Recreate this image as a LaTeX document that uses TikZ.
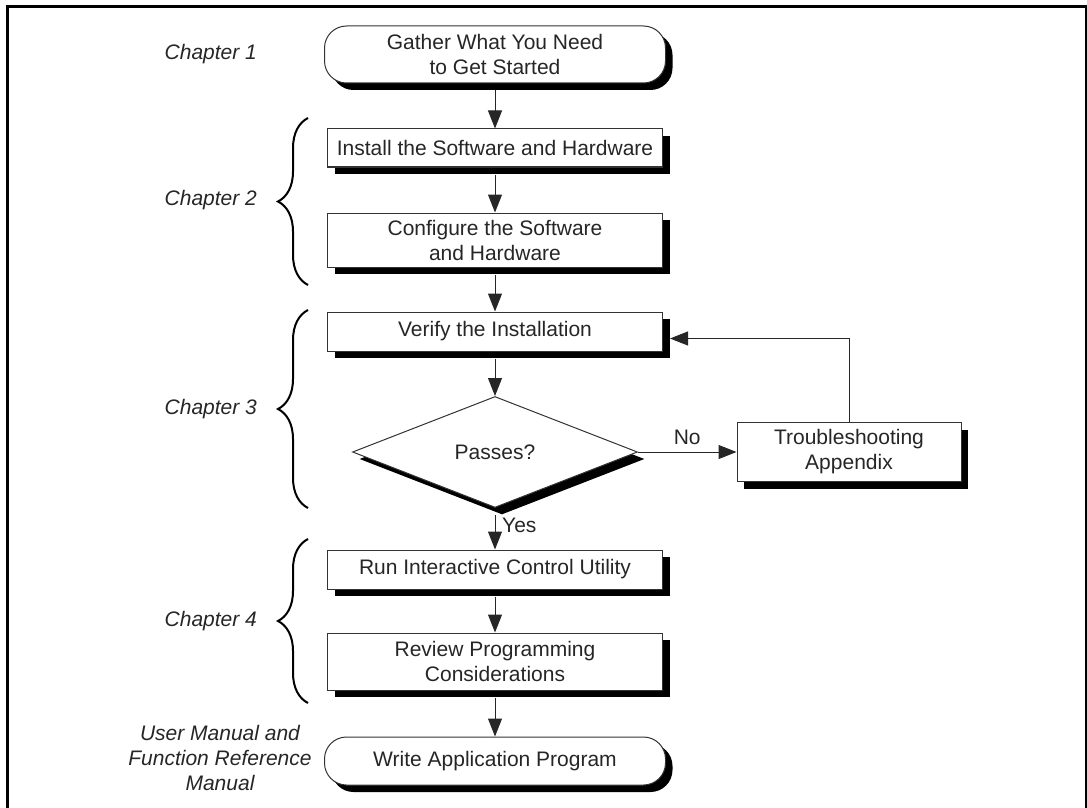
\documentclass[tikz,border=0pt]{standalone}
\usepackage{fontspec}
\setmainfont{Liberation Sans}
\usetikzlibrary{shapes.geometric, shadows, arrows.meta, decorations.pathreplacing}
\begin{document}
\begin{tikzpicture}[x=0.5pt, y=-0.5pt,
  every node/.style={font=\fontsize{10.5}{12.5}\selectfont, text=black!85},
  shad/.style={drop shadow={shadow xshift=3.5pt, shadow yshift=-3.5pt, fill=black, opacity=1}},
  procbox/.style={draw=black!80, line width=0.5pt, fill=white, rectangle, minimum width=167.5pt, align=center, inner sep=0pt, shad},
  termbox/.style={procbox, rounded corners=11pt, minimum width=170.5pt},
  decbox/.style={draw=black!80, line width=0.5pt, fill=white, diamond, minimum width=142.5pt, minimum height=55.5pt, inner sep=0pt, shad},
  arr/.style={line width=0.5pt, draw=black!85, -{Triangle[length=9pt,width=7pt]}},
  chap/.style={font=\fontsize{10.5}{12.5}\selectfont\itshape, anchor=east, align=center},
  brc/.style={decorate, decoration={brace, amplitude=15pt}, line width=1pt},
]
\useasboundingbox (0,0) rectangle (1087,808);
\draw[line width=1.5pt] (7,812) -- (7,7) -- (1086,7) -- (1086,812);

\node[termbox, minimum height=28.5pt] (t1) at (495,54.5) {Gather What You Need\\to Get Started};
\node[procbox, minimum height=19pt] (inst) at (495,148) {Install the Software and Hardware};
\node[procbox, minimum height=27pt] (conf) at (495,240) {Configure the Software\\and Hardware};
\node[procbox, minimum height=19.5pt] (ver) at (495,331.5) {Verify the Installation};
\node[decbox] (dec) at (495,452) {Passes?};
\node[procbox, minimum width=112pt, minimum height=29.5pt] (tr) at (849,452) {Troubleshooting\\Appendix};
\node[procbox, minimum height=19.5pt] (run) at (495,569.5) {Run Interactive Control Utility};
\node[procbox, minimum height=28.5pt] (rev) at (495,661.5) {Review Programming\\Considerations};
\node[termbox, minimum height=24pt] (t2) at (495,761) {Write Application Program};

\node[chap] (c1) at (264,54) {Chapter 1};
\node[chap] (c2) at (264,200) {Chapter 2};
\node[chap] (c3) at (264,409) {Chapter 3};
\node[chap] (c4) at (264,621) {Chapter 4};
\node[chap, anchor=center] (c5) at (220,758) {User Manual and\\Function Reference\\Manual};

\draw[brc] (308,285) -- (308,118);
\draw[brc] (308,508) -- (308,310);
\draw[brc] (308,703) -- (308,539);

\draw[arr] ([yshift=-3.5pt]t1.south) -- (inst.north);
\draw[arr] ([yshift=-3.5pt]inst.south) -- (conf.north);
\draw[arr] ([yshift=-3.5pt]conf.south) -- (ver.north);
\draw[arr] ([yshift=-3.5pt]ver.south) -- (dec.north);
\draw[arr] (dec.east) -- node[above=0pt] {No} (tr.west);
\draw[arr] (tr.north) |- ([xshift=3.5pt,yshift=-3.5pt]ver.east);
\draw[arr] ([yshift=-3.5pt]dec.south) -- node[right, pos=0.3] {Yes} (run.north);
\draw[arr] ([yshift=-3.5pt]run.south) -- (rev.north);
\draw[arr] ([yshift=-3.5pt]rev.south) -- (t2.north);
\end{tikzpicture}
\end{document}
